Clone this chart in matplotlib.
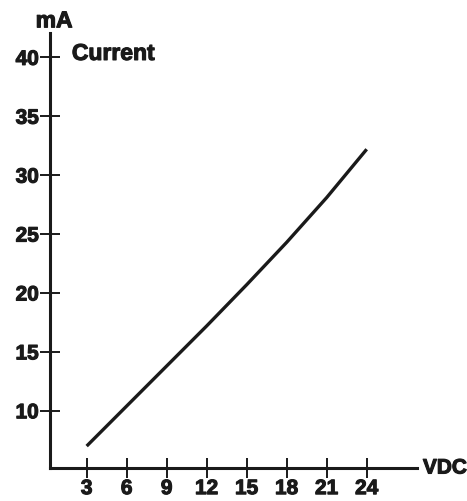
import matplotlib
matplotlib.use("Agg")
import matplotlib.pyplot as plt
import matplotlib.patheffects as pe

# Data
volts = [3, 6, 9, 12, 15, 18, 21, 24]
current_ma = [7.0, 10.4, 13.8, 17.2, 20.7, 24.3, 28.1, 32.2]
x_ticks = [3, 6, 9, 12, 15, 18, 21, 24]
y_ticks = [10, 15, 20, 25, 30, 35, 40]

plt.rcParams['font.family'] = ['Liberation Sans', 'DejaVu Sans']
plt.rcParams['font.weight'] = 'bold'

ink = "#1a1a1a"
heavy = [pe.withStroke(linewidth=0.8, foreground=ink)]

fig = plt.figure(figsize=(4.67, 5.01), dpi=100)
ax = fig.add_axes([50 / 467, 1 - 468 / 501, 366.7 / 467, 435 / 501])

ax.plot(volts, current_ma, color=ink, linewidth=2.4, solid_capstyle="butt")

ax.set_xlim(0.25, 27.75)
ax.set_ylim(5.14, 42.07)
ax.set_xticks(x_ticks)
ax.set_yticks(y_ticks)
ax.tick_params(direction="inout", length=14, width=1.4, color=ink,
               labelsize=15, pad=1)

for lbl in ax.get_xticklabels() + ax.get_yticklabels():
    lbl.set_fontweight("bold")
    lbl.set_color(ink)
    lbl.set_path_effects(heavy)

ax.spines["top"].set_visible(False)
ax.spines["right"].set_visible(False)
for side in ["left", "bottom"]:
    ax.spines[side].set_linewidth(2.2)
    ax.spines[side].set_color(ink)

# Axis captions
ax.text(0.011, 1.028, "mA", transform=ax.transAxes, ha="center", va="center",
        fontsize=16.5, fontweight="bold", color=ink, path_effects=heavy)
ax.text(0.172, 0.953, "Current", transform=ax.transAxes, ha="center", va="center",
        fontsize=16.5, fontweight="bold", color=ink, path_effects=heavy)
ax.text(1.077, 0.0, "VDC", transform=ax.transAxes, ha="center", va="center",
        fontsize=15, fontweight="bold", color=ink, clip_on=False,
        path_effects=heavy)

fig.savefig("out.png", dpi=100)
